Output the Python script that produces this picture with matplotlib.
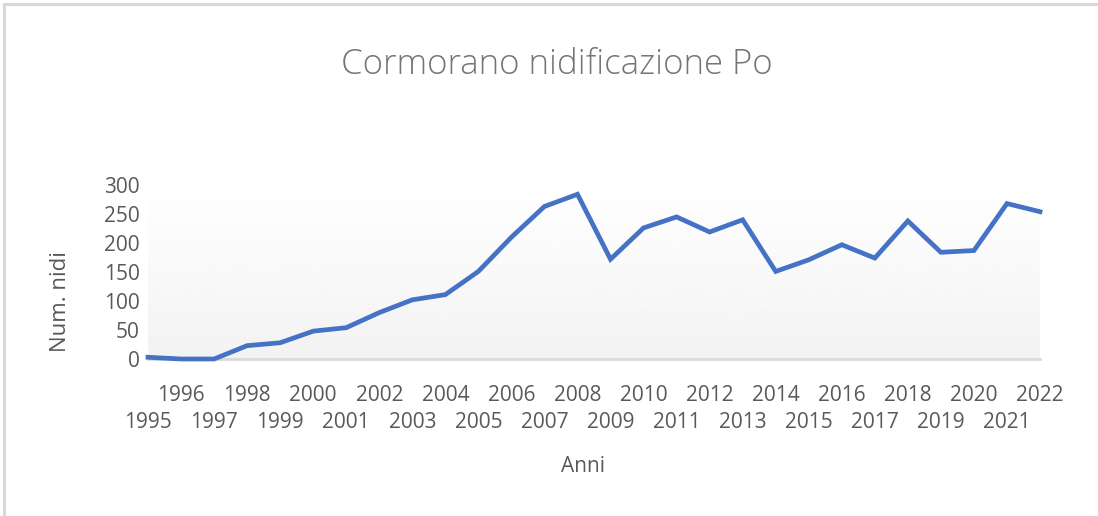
import numpy as np
import matplotlib
matplotlib.use('Agg')
import matplotlib.pyplot as plt
from matplotlib.lines import Line2D

years = list(range(1995, 2023))
nidi = [3, 0, 0, 23, 28, 48, 54, 80, 102, 111, 151, 210, 263, 284, 172, 226,
        245, 219, 240, 151, 171, 197, 174, 238, 184, 187, 268, 254]
yticks = [0, 50, 100, 150, 200, 250, 300]

plt.rcParams['font.family'] = ['Open Sans', 'DejaVu Sans']
txt = '#595959'

fig = plt.figure(figsize=(10.98, 5.16), dpi=100)
ax = fig.add_axes([148 / 1098, 1 - 359 / 516, (1040 - 148) / 1098, (359 - 185) / 516])

# gradient background, white at top to light grey at bottom
grad = np.linspace(0.95, 1.0, 256).reshape(-1, 1)
ax.imshow(grad, cmap='gray', vmin=0, vmax=1, aspect='auto',
          extent=[0, 1, 0, 1], transform=ax.transAxes, zorder=0, origin='lower')

ax.plot(years, nidi, color='#4472C4', lw=3.4, solid_joinstyle='miter', zorder=3, clip_on=False)
ax.set_xlim(1995, 2022)
ax.set_ylim(0, 300)

for s in ['top', 'right', 'left']:
    ax.spines[s].set_visible(False)
ax.spines['bottom'].set_color('#D9D9D9')
ax.spines['bottom'].set_linewidth(2)
ax.spines['bottom'].set_zorder(2)

ax.set_yticks(yticks)
ax.tick_params(axis='y', length=0, pad=6, labelsize=15, labelcolor=txt)

odd = [y for y in years if y % 2 == 1]
even = [y for y in years if y % 2 == 0]
ax.set_xticks(odd)
ax.set_xticklabels([str(y) for y in odd])
ax.set_xticks(even, minor=True)
ax.set_xticklabels([str(y) for y in even], minor=True)
ax.tick_params(axis='x', which='major', length=0, pad=38.5, labelsize=15, labelcolor=txt)
ax.tick_params(axis='x', which='minor', length=0, pad=19, labelsize=15, labelcolor=txt)

fig.text(583 / 1098, 1 - 466 / 516, 'Anni', ha='center', va='center', fontsize=15, color=txt)
fig.text(61 / 1098, 1 - 302 / 516, 'Num. nidi', ha='center', va='center', rotation=90,
         fontsize=16, color=txt)
fig.text(557 / 1098, 1 - 65 / 516, 'Cormorano nidificazione Po', ha='center', va='center',
         fontsize=25, color='#757575', fontweight='light')

# chart border (left and top)
fig.add_artist(Line2D([4 / 1098, 4 / 1098], [0, 1 - 4 / 516], transform=fig.transFigure,
                      color='#D9D9D9', lw=2.2))
fig.add_artist(Line2D([4 / 1098, 1], [1 - 4 / 516, 1 - 4 / 516], transform=fig.transFigure,
                      color='#D9D9D9', lw=2.2))

fig.savefig('out.png', dpi=100)
